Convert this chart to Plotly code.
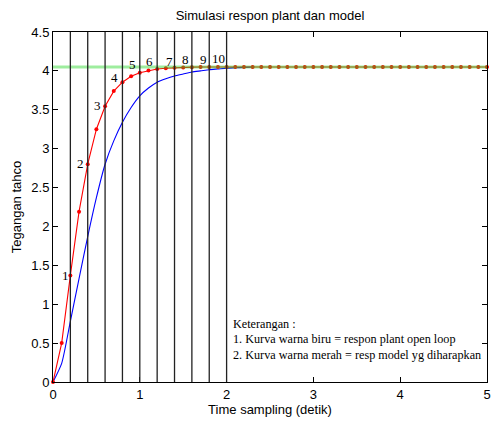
import plotly.graph_objects as go

# ---- data ----
t_model = [round(0.1 * i, 1) for i in range(51)]
y_model = [0.0, 0.50, 1.37, 2.19, 2.80, 3.25, 3.545, 3.74, 3.855, 3.93,
           3.975, 4.005, 4.025, 4.033, 4.04, 4.045, 4.048, 4.05, 4.05, 4.05] + [4.05] * 31

t_plant = [round(0.1 * i, 1) for i in range(24)]
y_plant = [0.0, 0.24, 0.78, 1.33, 1.87, 2.37, 2.80, 3.10, 3.34, 3.53,
           3.68, 3.78, 3.855, 3.90, 3.935, 3.96, 3.985, 4.0, 4.015, 4.025,
           4.035, 4.04, 4.045, 4.05]

yss = 4.05
sample_lines = [0.2, 0.4, 0.6, 0.8, 1.0, 1.2, 1.4, 1.6, 1.8, 2.0]
sample_labels = ["1", "2", "3", "4", "5", "6", "7", "8", "9", "10"]
label_x = [0.142, 0.317, 0.507, 0.705, 0.914, 1.117, 1.342, 1.531, 1.734, 1.905]
label_y = [1.365, 2.81, 3.56, 3.91, 4.08, 4.12, 4.12, 4.145, 4.15, 4.16]

keterangan = ["Keterangan :",
              "1. Kurva warna biru = respon plant open loop",
              "2. Kurva warna merah = resp model yg diharapkan"]

SANS = "Liberation Sans, Arial, sans-serif"
SERIF = "Liberation Serif, Times New Roman, serif"

fig = go.Figure()

# vertical sampling lines
for xv in sample_lines:
    fig.add_shape(type="line", xref="x", yref="y", x0=xv, x1=xv, y0=0, y1=4.5,
                  line=dict(color="#222222", width=1.3), layer="above")

fig.add_trace(go.Scatter(x=t_plant, y=y_plant, mode="lines",
                         line=dict(color="#0000ff", width=1.1, shape="spline", smoothing=0.6),
                         showlegend=False))
fig.add_trace(go.Scatter(x=t_model, y=y_model, mode="lines+markers",
                         line=dict(color="#ff0000", width=1.1),
                         marker=dict(color="#ff0000", size=4, symbol="circle"),
                         cliponaxis=False, showlegend=False))
fig.add_trace(go.Scatter(x=[0, 5], y=[yss, yss], mode="lines",
                         line=dict(color="rgba(40,215,40,0.45)", width=3),
                         showlegend=False))

for lx, ly, lt in zip(label_x, label_y, sample_labels):
    fig.add_annotation(x=lx, y=ly, text=lt, showarrow=False, xanchor="center", yanchor="middle",
                       font=dict(family=SERIF, size=13, color="black"))

fig.add_annotation(x=-0.095, y=4.12, text="yss", showarrow=False, xanchor="center", yanchor="middle",
                   font=dict(family=SERIF, size=12, color="black"))

for i, line in enumerate(keterangan):
    fig.add_annotation(x=2.05, y=0.75 - i * 0.2, text=line, showarrow=False,
                       xanchor="left", yanchor="middle",
                       font=dict(family=SERIF, size=12.2, color="black"))

axis_common = dict(showline=True, linecolor="black", linewidth=1, mirror="ticks",
                   ticks="inside", ticklen=5, tickcolor="black", showgrid=False,
                   zeroline=False, tickfont=dict(family=SANS, size=13, color="black"))

fig.update_xaxes(range=[0, 5], tickvals=[0, 1, 2, 3, 4, 5],
                 title=dict(text="Time sampling (detik)", standoff=4,
                            font=dict(family=SANS, size=13, color="black")),
                 **axis_common)
fig.update_yaxes(range=[0, 4.5], tickvals=[0, 0.5, 1, 1.5, 2, 2.5, 3, 3.5, 4, 4.5],
                 ticktext=["0", "0.5", "1", "1.5", "2", "2.5", "3", "3.5", "4", "4.5"],
                 title=dict(text="Tegangan tahco", standoff=6,
                            font=dict(family=SANS, size=13, color="black")),
                 **axis_common)

fig.update_layout(
    width=496, height=422,
    margin=dict(l=53, r=5, t=32, b=40),
    paper_bgcolor="white", plot_bgcolor="white",
    title=dict(text="Simulasi respon plant dan model", x=0.5, xref="paper",
               y=1 - 15 / 422, yanchor="middle",
               font=dict(family=SANS, size=13, color="black")),
)

fig.write_html("out.html")
